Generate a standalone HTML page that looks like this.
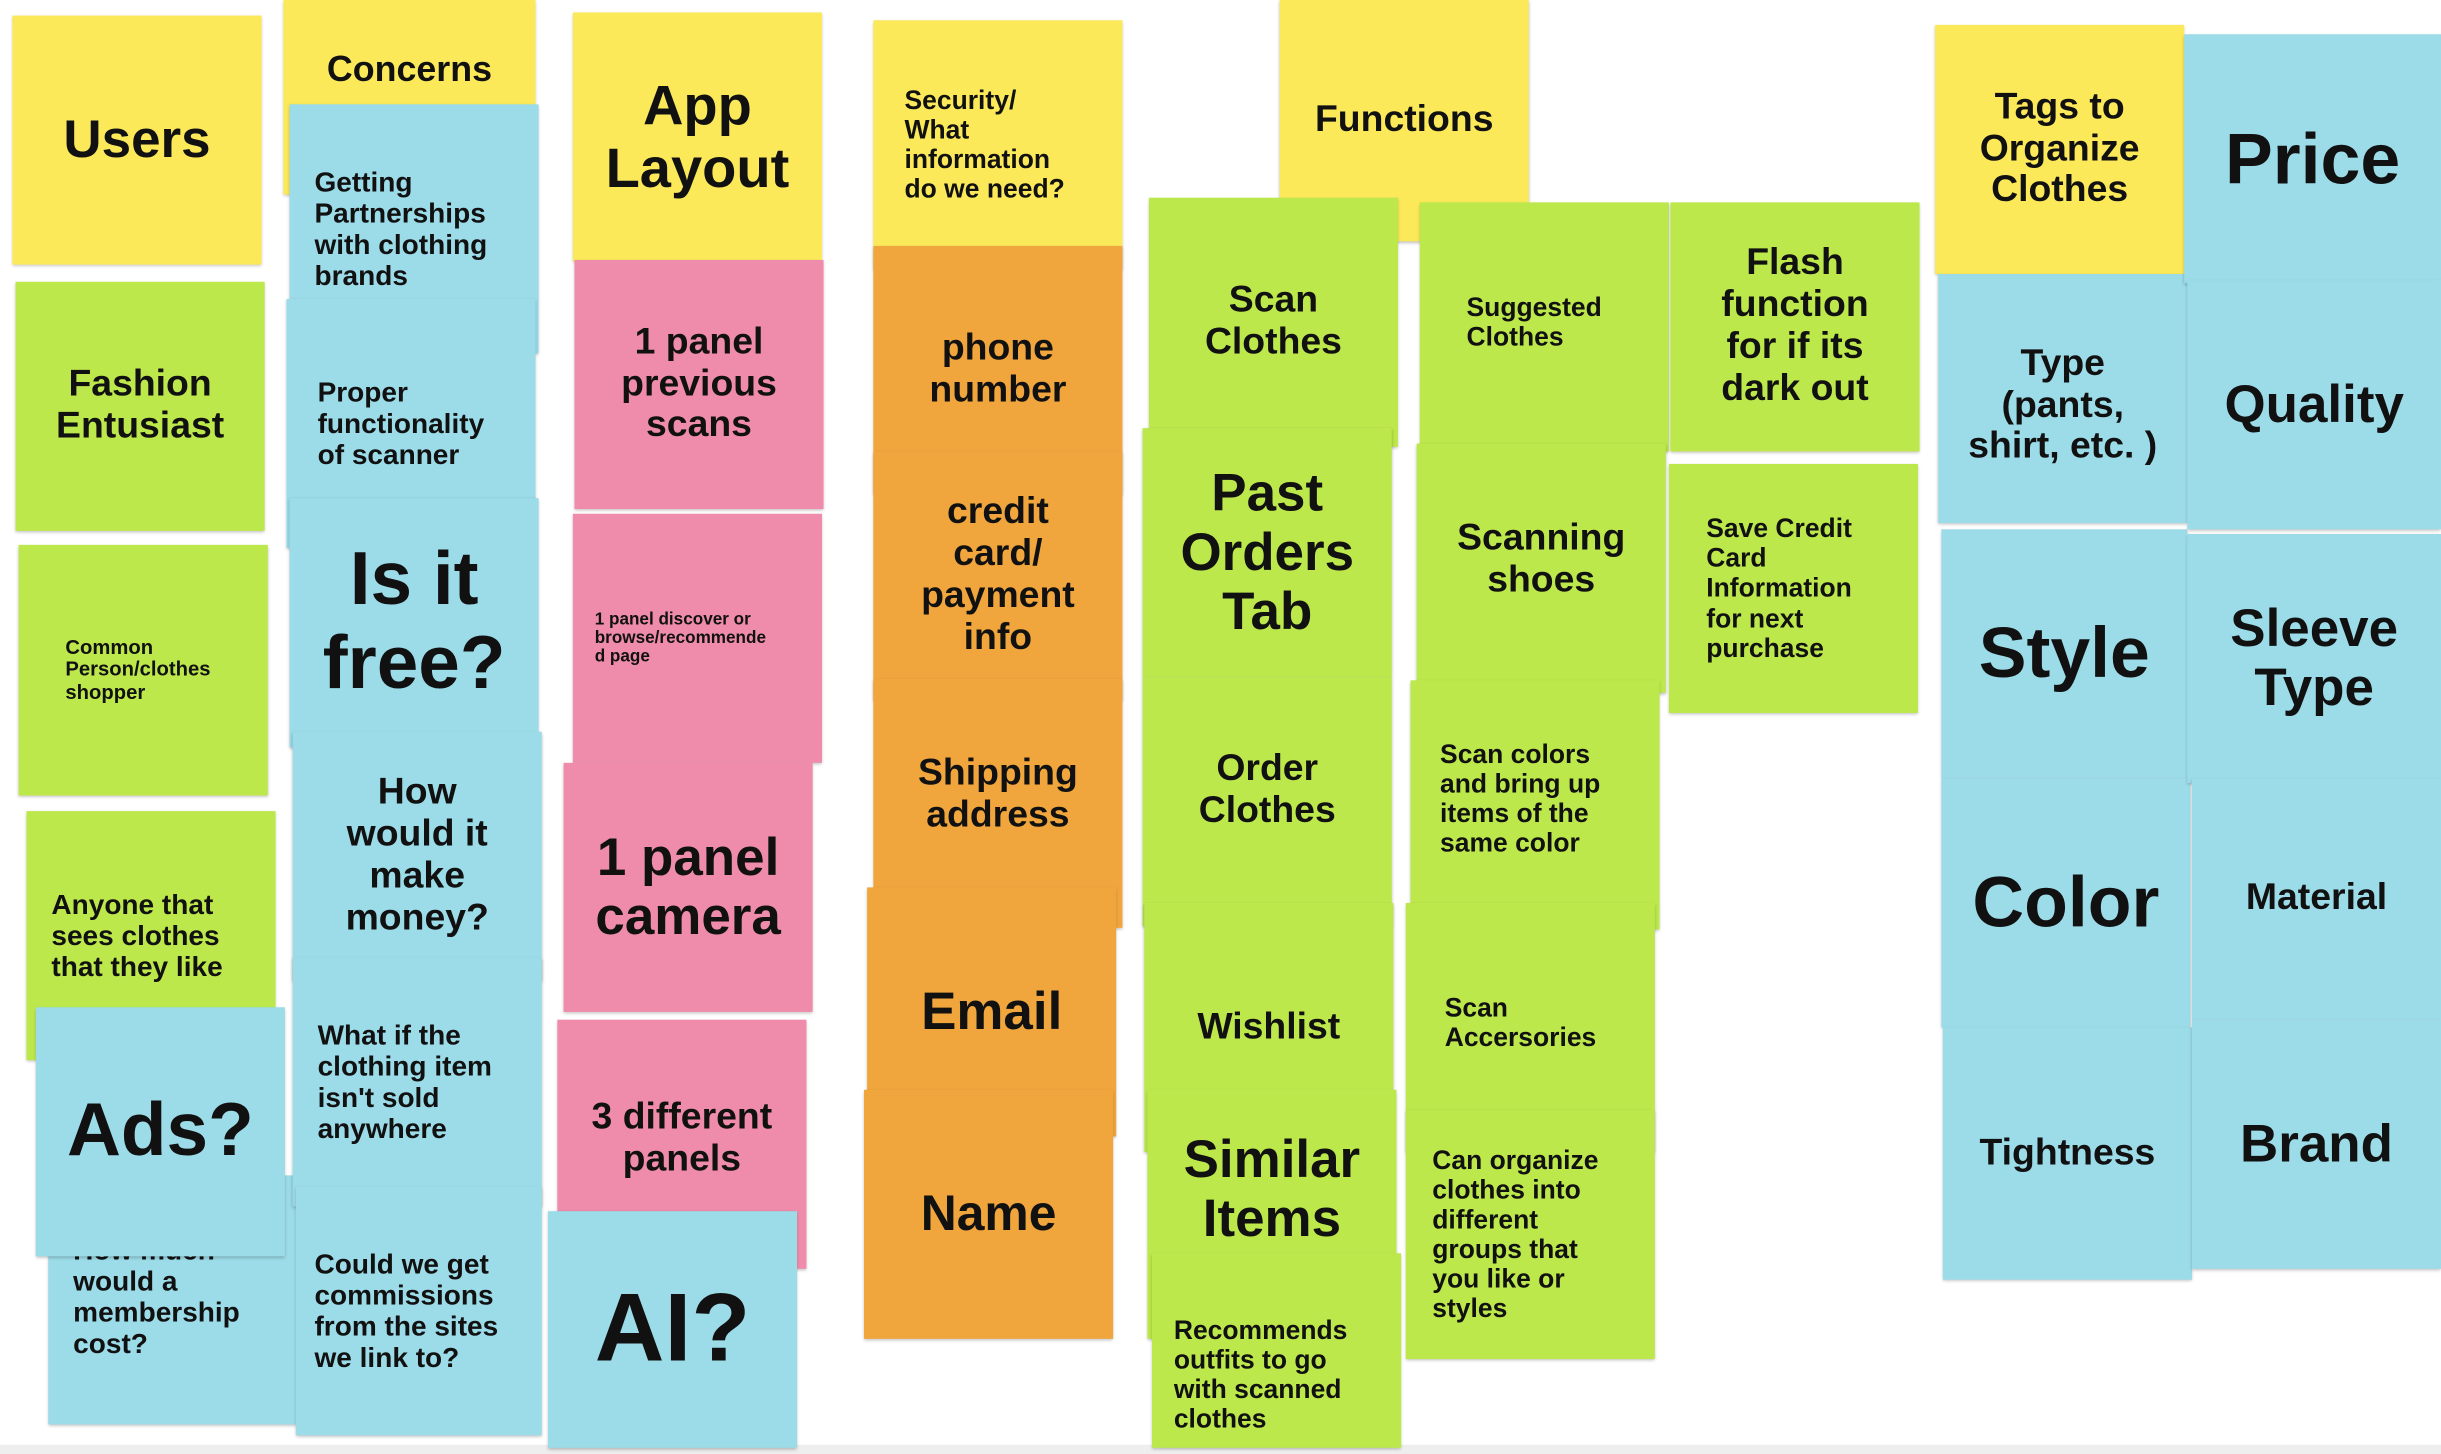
<!DOCTYPE html>
<html><head><meta charset="utf-8"><style>
html,body{margin:0;padding:0;background:#fff;width:2441px;height:1452px;overflow:hidden}
#w{position:absolute;left:0;top:0;width:1568px;height:934px;transform:scale(1.5568);transform-origin:0 0;font-family:"Liberation Sans",sans-serif;font-weight:bold;color:#111}
.n{position:absolute;box-sizing:border-box;display:flex;align-items:center;justify-content:center;text-align:center;box-shadow:0 1px 2px rgba(0,0,0,.25);line-height:1.12}
.l{justify-content:flex-start;text-align:left;padding-left:16px}
.y{background:#fbe95a}.g{background:#bde84c}.b{background:#9cdbe8}.p{background:#ef8cab}.o{background:#f0a53d}
</style></head><body><div id="w">
<div style="position:absolute;left:0;top:928px;width:1568px;height:6px;background:#eee"></div>
<!-- col1 -->
<div class="n y" style="left:8px;top:10px;width:160px;height:160px;font-size:34px">Users</div>
<div class="n g" style="left:10px;top:181px;width:160px;height:160px;font-size:24px">Fashion<br>Entusiast</div>
<div class="n g l" style="left:12px;top:350px;width:160px;height:161px;font-size:13px;padding-left:30px">Common<br>Person/clothes<br>shopper</div>
<div class="n g l" style="left:17px;top:521px;width:160px;height:160px;font-size:18px">Anyone that<br>sees clothes<br>that they like</div>
<div class="n b l" style="left:31px;top:755px;width:160px;height:160px;font-size:18px;align-items:flex-start;padding-top:38px">How much<br>would a<br>membership<br>cost?</div>
<div class="n b" style="left:23px;top:647px;width:160px;height:160px;font-size:48px">Ads?</div>
<!-- col2 -->
<div class="n y" style="left:182px;top:0;width:162px;height:125px;font-size:23px;align-items:flex-start;padding-top:32px">Concerns</div>
<div class="n b l" style="left:186px;top:67px;width:160px;height:160px;font-size:18px">Getting<br>Partnerships<br>with clothing<br>brands</div>
<div class="n b l" style="left:184px;top:192px;width:160px;height:160px;font-size:18px;padding-left:20px">Proper<br>functionality<br>of scanner</div>
<div class="n b" style="left:186px;top:320px;width:160px;height:160px;font-size:48px">Is it<br>free?</div>
<div class="n b" style="left:188px;top:470px;width:160px;height:160px;font-size:24px">How<br>would it<br>make<br>money?</div>
<div class="n b l" style="left:188px;top:615px;width:160px;height:160px;font-size:18px">What if the<br>clothing item<br>isn't sold<br>anywhere</div>
<div class="n b l" style="left:190px;top:762px;width:158px;height:160px;font-size:18px;padding-left:12px">Could we get<br>commissions<br>from the sites<br>we link to?</div>
<!-- col3 -->
<div class="n y" style="left:368px;top:8px;width:160px;height:160px;font-size:36px">App<br>Layout</div>
<div class="n p" style="left:369px;top:167px;width:160px;height:160px;font-size:24px">1 panel<br>previous<br>scans</div>
<div class="n p l" style="left:368px;top:330px;width:160px;height:160px;font-size:11px;padding-left:14px">1 panel discover or<br>browse/recommende<br>d page</div>
<div class="n p" style="left:362px;top:490px;width:160px;height:160px;font-size:34px">1 panel<br>camera</div>
<div class="n p" style="left:358px;top:655px;width:160px;height:160px;font-size:24px;align-items:flex-start;padding-top:50px">3 different<br>panels</div>
<div class="n b" style="left:352px;top:778px;width:160px;height:152px;font-size:62px">AI?</div>
<!-- col4 -->
<div class="n y l" style="left:561px;top:13px;width:160px;height:160px;font-size:17px;padding-left:20px">Security/<br>What<br>information<br>do we need?</div>
<div class="n o" style="left:561px;top:158px;width:160px;height:160px;font-size:24px">phone<br>number</div>
<div class="n o" style="left:561px;top:290px;width:160px;height:160px;font-size:24px">credit<br>card/<br>payment<br>info</div>
<div class="n o" style="left:561px;top:436px;width:160px;height:160px;font-size:24px;padding-bottom:10px">Shipping<br>address</div>
<div class="n o" style="left:557px;top:570px;width:160px;height:160px;font-size:34px">Email</div>
<div class="n o" style="left:555px;top:700px;width:160px;height:160px;font-size:32px">Name</div>
<!-- col5 -->
<div class="n y" style="left:822px;top:0;width:160px;height:155px;font-size:24px">Functions</div>
<div class="n g" style="left:738px;top:127px;width:160px;height:160px;font-size:24px">Scan<br>Clothes</div>
<div class="n g" style="left:734px;top:275px;width:160px;height:160px;font-size:34px">Past<br>Orders<br>Tab</div>
<div class="n g" style="left:734px;top:435px;width:160px;height:160px;font-size:24px;align-items:flex-start;padding-top:46px">Order<br>Clothes</div>
<div class="n g" style="left:735px;top:580px;width:160px;height:160px;font-size:24px">Wishlist</div>
<div class="n g" style="left:737px;top:700px;width:160px;height:160px;font-size:34px;align-items:flex-start;padding-top:26px">Similar<br>Items</div>
<div class="n g l" style="left:740px;top:805px;width:160px;height:125px;font-size:17px;padding-left:14px;align-items:flex-start;padding-top:40px">Recommends<br>outfits to go<br>with scanned<br>clothes</div>
<!-- col6 -->
<div class="n g l" style="left:912px;top:130px;width:160px;height:160px;font-size:17px;padding-left:30px;align-items:flex-start;padding-top:58px">Suggested<br>Clothes</div>
<div class="n g" style="left:910px;top:285px;width:160px;height:160px;font-size:24px;align-items:flex-start;padding-top:48px">Scanning<br>shoes</div>
<div class="n g l" style="left:906px;top:437px;width:160px;height:160px;font-size:17px;padding-left:19px;align-items:flex-start;padding-top:38px">Scan colors<br>and bring up<br>items of the<br>same color</div>
<div class="n g l" style="left:903px;top:580px;width:160px;height:160px;font-size:17px;padding-left:25px;align-items:flex-start;padding-top:58px">Scan<br>Accersories</div>
<div class="n g l" style="left:903px;top:713px;width:160px;height:160px;font-size:17px;padding-left:17px">Can organize<br>clothes into<br>different<br>groups that<br>you like or<br>styles</div>
<!-- col7 -->
<div class="n g" style="left:1073px;top:130px;width:160px;height:160px;font-size:24px">Flash<br>function<br>for if its<br>dark out</div>
<div class="n g l" style="left:1072px;top:298px;width:160px;height:160px;font-size:17px;padding-left:24px">Save Credit<br>Card<br>Information<br>for next<br>purchase</div>
<!-- col8 -->
<div class="n y" style="left:1243px;top:16px;width:160px;height:160px;font-size:24px">Tags to<br>Organize<br>Clothes</div>
<div class="n b" style="left:1245px;top:176px;width:160px;height:160px;font-size:24px;padding-top:10px">Type<br>(pants,<br>shirt, etc. )</div>
<div class="n b" style="left:1247px;top:340px;width:158px;height:160px;font-size:46px">Style</div>
<div class="n b" style="left:1247px;top:500px;width:160px;height:160px;font-size:46px">Color</div>
<div class="n b" style="left:1248px;top:660px;width:160px;height:162px;font-size:24px">Tightness</div>
<!-- col9 -->
<div class="n b" style="left:1403px;top:22px;width:165px;height:160px;font-size:46px;align-items:flex-start;padding-top:55px">Price</div>
<div class="n b" style="left:1405px;top:180px;width:163px;height:160px;font-size:34px">Quality</div>
<div class="n b" style="left:1405px;top:343px;width:163px;height:160px;font-size:34px">Sleeve<br>Type</div>
<div class="n b" style="left:1408px;top:500px;width:160px;height:155px;font-size:24px">Material</div>
<div class="n b" style="left:1408px;top:655px;width:160px;height:160px;font-size:34px">Brand</div>
</div></body></html>
